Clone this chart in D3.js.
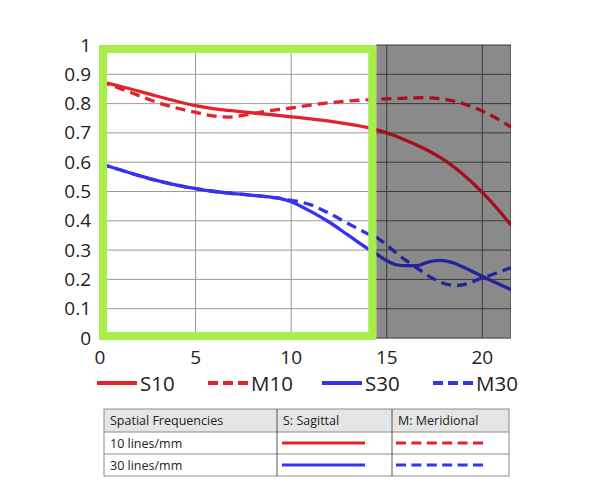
<!DOCTYPE html>
<html>
<head>
<meta charset="utf-8">
<script src="https://cdn.jsdelivr.net/npm/d3@7"></script>
<style>
  body { margin: 0; background: #fff; }
  svg text { font-family: "Open Sans", "Noto Sans", sans-serif; fill: #222; }
</style>
</head>
<body>
<div id="chart"></div>
<script>
// data (x = image height mm, y = MTF)
const s10 = [[0,0.875],[1,0.86],[2,0.843],[3,0.825],[4,0.808],[5,0.793],[6,0.782],[7,0.775],[8,0.768],[9,0.762],[10,0.755],[11,0.748],[12,0.74],[13,0.73],[14,0.718],[15,0.70],[16,0.675],[17,0.645],[18,0.608],[19,0.558],[20,0.497],[21,0.425],[21.5,0.385]];
const m10 = [[0,0.875],[1,0.853],[2,0.828],[3,0.804],[4,0.785],[5,0.77],[6,0.757],[6.7,0.754],[7.5,0.76],[8,0.766],[9,0.777],[10,0.785],[11,0.795],[12,0.803],[13,0.809],[14,0.813],[15,0.816],[16,0.819],[17,0.82],[18,0.815],[19,0.8],[20,0.775],[21,0.74],[21.5,0.72]];
const s30 = [[0,0.595],[1,0.575],[2,0.555],[3,0.537],[4,0.522],[5,0.51],[6,0.5],[7,0.493],[8,0.487],[9,0.48],[9.5,0.475],[10,0.465],[10.5,0.45],[11,0.433],[12,0.395],[13,0.35],[14,0.305],[14.5,0.285],[15,0.264],[15.5,0.25],[16,0.247],[16.6,0.247],[17.2,0.26],[17.8,0.265],[18.4,0.258],[19,0.242],[20,0.21],[21,0.18],[21.5,0.165]];
const m30 = [[0,0.595],[1,0.575],[2,0.555],[3,0.537],[4,0.522],[5,0.51],[6,0.5],[7,0.493],[8,0.487],[9,0.48],[9.5,0.476],[10,0.47],[10.5,0.464],[11,0.455],[12,0.425],[13,0.39],[14,0.356],[14.5,0.342],[15,0.317],[15.5,0.29],[16,0.265],[16.5,0.243],[17,0.22],[17.5,0.2],[18,0.186],[18.6,0.179],[19.2,0.185],[19.8,0.2],[20.3,0.211],[21,0.228],[21.5,0.24]];
const yTicks = [0, 0.1, 0.2, 0.3, 0.4, 0.5, 0.6, 0.7, 0.8, 0.9, 1];
const xTicks = [0, 5, 10, 15, 20];
const grayFrom = 14.45;
const legendNames = ["S10", "M10", "S30", "M30"];
const tableHeader = ["Spatial Frequencies", "S: Sagittal", "M: Meridional"];
const tableRows = ["10 lines/mm", "30 lines/mm"];

const W = 590, H = 501;
const svg = d3.select("#chart").append("svg")
  .attr("width", W).attr("height", H);

const x = d3.scaleLinear().domain([0, 21.5]).range([100, 511]);
const y = d3.scaleLinear().domain([0, 1]).range([338, 45]);

const defs = svg.append("defs");
defs.append("clipPath").attr("id", "clipWhite").append("rect")
  .attr("x", x(0)).attr("y", y(1)).attr("width", x(grayFrom) - x(0)).attr("height", y(0) - y(1));
defs.append("clipPath").attr("id", "clipGray").append("rect")
  .attr("x", x(grayFrom)).attr("y", y(1) - 5).attr("width", x(21.5) - x(grayFrom)).attr("height", y(0) - y(1) + 10);

// gray region
svg.append("rect")
  .attr("x", x(grayFrom)).attr("y", y(1))
  .attr("width", x(21.5) - x(grayFrom)).attr("height", y(0) - y(1))
  .attr("fill", "#8a8a8a");

// grid, drawn twice: light over white, dark over gray
function grid(clip, color) {
  const g = svg.append("g").attr("clip-path", `url(#${clip})`);
  g.selectAll("line.h").data(yTicks).enter().append("line")
    .attr("x1", x(0)).attr("x2", x(21.5))
    .attr("y1", d => y(d)).attr("y2", d => y(d))
    .attr("stroke", color).attr("stroke-width", 1);
  g.selectAll("line.v").data(xTicks).enter().append("line")
    .attr("y1", y(0)).attr("y2", y(1))
    .attr("x1", d => x(d)).attr("x2", d => x(d))
    .attr("stroke", color).attr("stroke-width", 1);
  g.append("line").attr("x1", x(21.5)).attr("x2", x(21.5))
    .attr("y1", y(0)).attr("y2", y(1)).attr("stroke", color);
}
grid("clipWhite", "#9a9a9a");
grid("clipGray", "#3a3a3a");

// axes lines
svg.append("line").attr("x1", x(0)).attr("x2", x(0)).attr("y1", y(0)).attr("y2", y(1)).attr("stroke", "#777");
svg.append("line").attr("x1", x(0)).attr("x2", x(21.5)).attr("y1", y(0)).attr("y2", y(0)).attr("stroke", "#777");

// curves
const line = d3.line().x(d => x(d[0])).y(d => y(d[1])).curve(d3.curveMonotoneX);
const series = [
  { data: s10, light: "#e3222b", dark: "#a3101b", dash: null },
  { data: m10, light: "#e3222b", dark: "#a3101b", dash: "10,6" },
  { data: s30, light: "#3434ee", dark: "#24249a", dash: null },
  { data: m30, light: "#3434ee", dark: "#24249a", dash: "10,6" }
];
[["clipWhite", "light"], ["clipGray", "dark"]].forEach(([clip, key]) => {
  svg.append("g").attr("clip-path", `url(#${clip})`)
    .selectAll("path").data(series).enter().append("path")
    .attr("d", d => line(d.data))
    .attr("fill", "none")
    .attr("stroke", d => d[key])
    .attr("stroke-width", 3.3)
    .attr("stroke-dasharray", d => d.dash);
});

// green frame
svg.append("rect")
  .attr("x", x(0) + 3).attr("y", y(1) + 4)
  .attr("width", x(grayFrom) - x(0) - 7).attr("height", y(0) - y(1) - 6)
  .attr("fill", "none").attr("stroke", "#a8ee4a").attr("stroke-width", 8);

// tick labels
svg.append("g").selectAll("text").data(yTicks).enter().append("text")
  .attr("x", 91).attr("y", d => y(d) + 6.5)
  .attr("text-anchor", "end").attr("font-size", 19)
  .text(d => d3.format("~g")(d));
svg.append("g").selectAll("text").data(xTicks).enter().append("text")
  .attr("x", d => x(d)).attr("y", 364)
  .attr("text-anchor", "middle").attr("font-size", 19)
  .text(d => d);

// legend
const legX = [97, 208, 322, 433];
const leg = svg.append("g").selectAll("g").data(series).enter().append("g")
  .attr("transform", (d, i) => `translate(${legX[i]}, 383)`);
leg.append("line").attr("x1", 0).attr("x2", 40)
  .attr("stroke", d => d.light).attr("stroke-width", 4)
  .attr("stroke-dasharray", d => d.dash ? "10,5" : null);
leg.append("text").attr("x", 43).attr("y", 8).attr("font-size", 20.5)
  .text((d, i) => legendNames[i]);

// table
const tX = [104, 277, 392, 509], tY = [409, 432, 454, 476];
const tbl = svg.append("g");
tbl.append("rect").attr("x", tX[0]).attr("y", tY[0])
  .attr("width", tX[3] - tX[0]).attr("height", tY[1] - tY[0]).attr("fill", "#e5e5e5");
tbl.append("rect").attr("x", tX[0]).attr("y", tY[0])
  .attr("width", tX[3] - tX[0]).attr("height", tY[3] - tY[0])
  .attr("fill", "none").attr("stroke", "#8c8c8c").attr("stroke-width", 1);
[tY[1], tY[2]].forEach(v => tbl.append("line").attr("x1", tX[0]).attr("x2", tX[3])
  .attr("y1", v).attr("y2", v).attr("stroke", "#8c8c8c"));
[tX[1], tX[2]].forEach(v => tbl.append("line").attr("x1", v).attr("x2", v)
  .attr("y1", tY[0]).attr("y2", tY[3]).attr("stroke", "#555"));
tableHeader.forEach((t, i) => tbl.append("text")
  .attr("x", tX[i] + 6).attr("y", tY[0] + 16).attr("font-size", 12.5).attr("fill", "#333").text(t));
tableRows.forEach((t, r) => {
  const cy = (tY[r + 1] + tY[r + 2]) / 2;
  tbl.append("text").attr("x", tX[0] + 6).attr("y", cy + 4.5)
    .attr("font-size", 12.5).attr("fill", "#333").text(t);
  const col = series[r * 2].light;
  tbl.append("line").attr("x1", 282).attr("x2", 365).attr("y1", cy).attr("y2", cy)
    .attr("stroke", col).attr("stroke-width", 3);
  tbl.append("line").attr("x1", 396).attr("x2", 483).attr("y1", cy).attr("y2", cy)
    .attr("stroke", col).attr("stroke-width", 3).attr("stroke-dasharray", "10,5.4");
});
</script>
</body>
</html>
